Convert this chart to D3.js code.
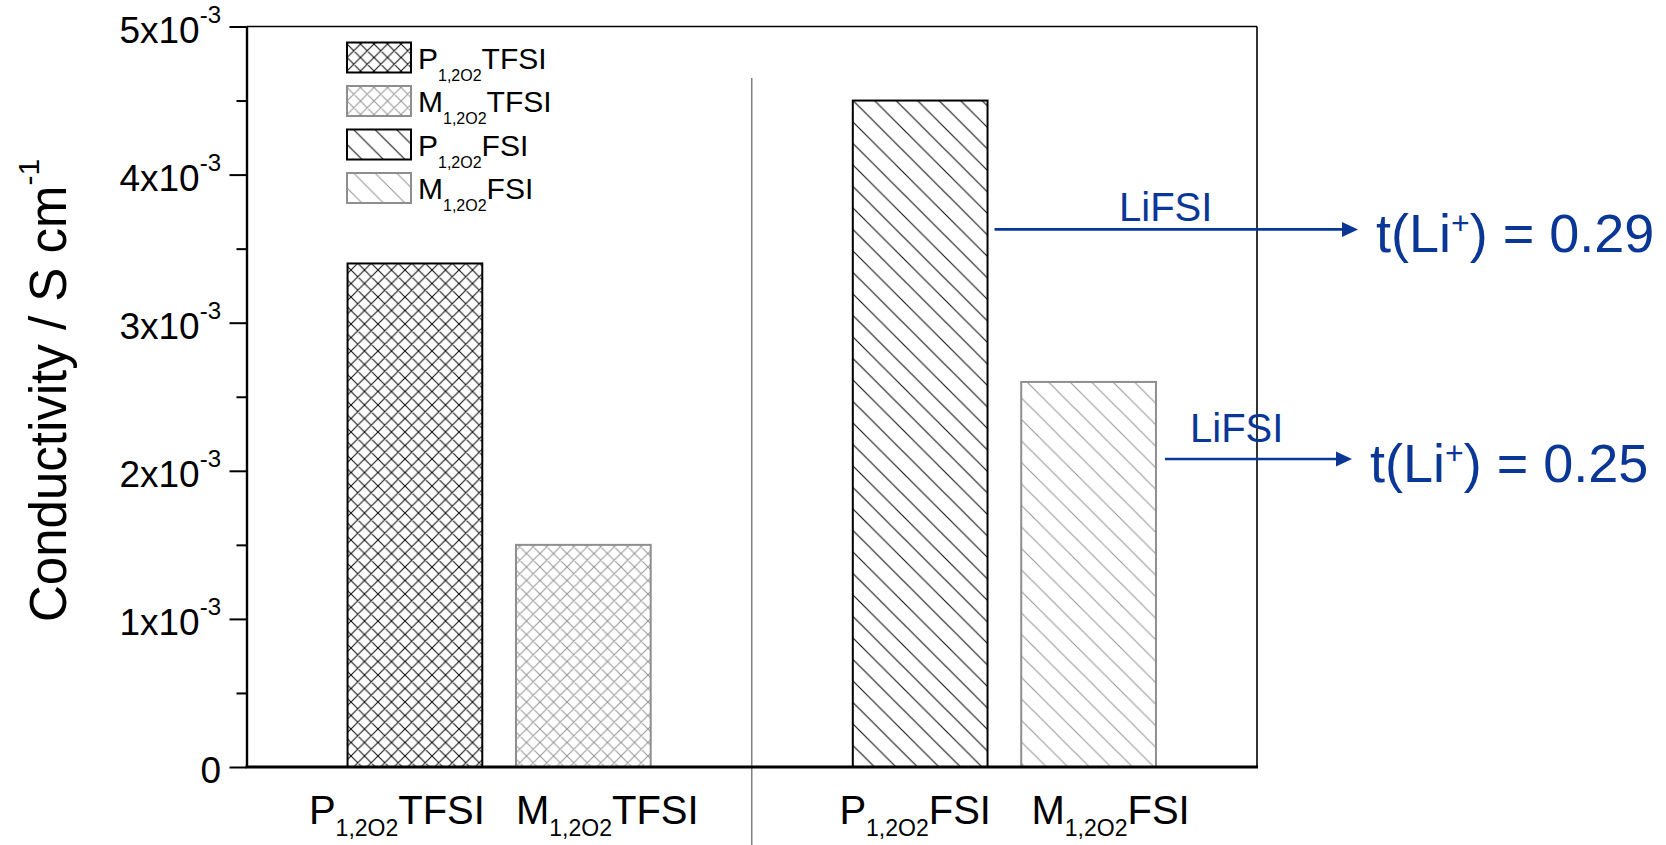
<!DOCTYPE html>
<html><head><meta charset="utf-8">
<script src="https://cdn.jsdelivr.net/npm/d3@7"></script>
<style>body{margin:0;background:#fff} svg{display:block} text{font-family:"Liberation Sans",Arial,sans-serif}</style>
</head><body><svg id="c" width="1666" height="845"></svg>
<script>
// ---------- data ----------
const categories = ["P1,2O2TFSI", "M1,2O2TFSI", "P1,2O2FSI", "M1,2O2FSI"];
const catPrefix = ["P", "M", "P", "M"];
const catSub = ["1,2O2", "1,2O2", "1,2O2", "1,2O2"];
const catSuffix = ["TFSI", "TFSI", "FSI", "FSI"];
const catKind = ["cross", "cross", "diag", "diag"];
const catTone = ["dark", "light", "dark", "light"];
const conductivity = [3.4e-3, 1.5e-3, 4.5e-3, 2.6e-3];

const yTicks = [0, 1e-3, 2e-3, 3e-3, 4e-3, 5e-3];
const yTickMant = ["0", "1x10", "2x10", "3x10", "4x10", "5x10"];
const yTickExp = ["", "-3", "-3", "-3", "-3", "-3"];
const yMinorTicks = [0.5e-3, 1.5e-3, 2.5e-3, 3.5e-3, 4.5e-3];

const annotCategory = ["P1,2O2FSI", "M1,2O2FSI"];
const annotSalt = ["LiFSI", "LiFSI"];
const annotLevel = [3.63e-3, 2.08e-3];
const annotT = ["0.29", "0.25"];

// ---------- layout ----------
const W = 1666, H = 845;
const L = 246.5, R = 1257, T = 26.5, B = 767;
const blue = "#0a3796";
const dark = "#000", light = "#8e8e8e";
const labelShift = [-18, 24, -5, 22];

const svg = d3.select("#c");
const defs = svg.append("defs");

function makePattern(id, kind, color) {
  const p = kind === "cross" ? 13.5 : 21.5;
  const pat = defs.append("pattern").attr("id", id)
    .attr("patternUnits", "userSpaceOnUse").attr("width", p).attr("height", p);
  const back = `M-1,-1L${p+1},${p+1}M${p-1},-1L${p+1},1M-1,${p-1}L1,${p+1}`;
  const fwd = `M-1,${p+1}L${p+1},-1M-1,1L1,-1M${p-1},${p+1}L${p+1},${p-1}`;
  pat.append("path").attr("d", kind === "cross" ? back + fwd : back)
    .attr("stroke", color).attr("stroke-width", 1.1).attr("fill", "none");
}
makePattern("cross-dark", "cross", "#111");
makePattern("cross-light", "cross", "#999");
makePattern("diag-dark", "diag", "#111");
makePattern("diag-light", "diag", "#999");

const slotDomain = [categories[0], categories[1], "__gap__", categories[2], categories[3]];
const x = d3.scaleBand().domain(slotDomain).range([L, R]).paddingInner(0.2).paddingOuter(0.6);
const y = d3.scaleLinear().domain([0, 5e-3]).range([B, T]);

const data = categories.map((c, i) => ({
  c, v: conductivity[i], kind: catKind[i], tone: catTone[i],
  pre: catPrefix[i], sub: catSub[i], suf: catSuffix[i], shift: labelShift[i]
}));

// bars
svg.append("g").selectAll("rect").data(data).join("rect")
  .attr("x", d => x(d.c)).attr("width", x.bandwidth())
  .attr("y", d => y(d.v)).attr("height", d => y(0) - y(d.v))
  .attr("fill", d => `url(#${d.kind}-${d.tone})`)
  .attr("stroke", d => d.tone === "dark" ? dark : light)
  .attr("stroke-width", 2);

// divider
const gapX = x("__gap__") + x.bandwidth() / 2;
svg.append("line").attr("x1", gapX).attr("x2", gapX).attr("y1", 78).attr("y2", H)
  .attr("stroke", "#808080").attr("stroke-width", 1.5);

// frame
svg.append("line").attr("x1", L).attr("x2", R).attr("y1", T).attr("y2", T).attr("stroke", "#000").attr("stroke-width", 1.6);
svg.append("line").attr("x1", R).attr("x2", R).attr("y1", T).attr("y2", B).attr("stroke", "#000").attr("stroke-width", 1.6);

// y axis
const yAxis = d3.axisLeft(y).tickValues(yTicks).tickSize(17).tickSizeOuter(0).tickFormat("");
const gy = svg.append("g").attr("transform", `translate(${L},0)`).call(yAxis);
gy.select(".domain").attr("stroke-width", 2.4);
gy.selectAll(".tick line").attr("stroke-width", 2);
const yMinor = d3.axisLeft(y).tickValues(yMinorTicks).tickSize(10).tickFormat("");
const gym = svg.append("g").attr("transform", `translate(${L},0)`).call(yMinor);
gym.select(".domain").remove();
gym.selectAll(".tick line").attr("stroke-width", 2);

const tl = svg.append("g").selectAll("text").data(yTicks).join("text")
  .attr("x", 221).attr("y", d => y(d) + 16)
  .attr("text-anchor", "end").attr("font-size", 37).attr("fill", "#000");
tl.append("tspan").text((d, i) => yTickMant[i]);
tl.append("tspan").attr("dy", -20).attr("font-size", 24).text((d, i) => yTickExp[i]);

// x axis baseline
svg.append("line").attr("x1", L - 1).attr("x2", R + 1).attr("y1", B).attr("y2", B)
  .attr("stroke", "#000").attr("stroke-width", 3.2);

// x labels
const xl = svg.append("g").selectAll("text").data(data).join("text")
  .attr("x", d => x(d.c) + x.bandwidth() / 2 + d.shift).attr("y", 824)
  .attr("text-anchor", "middle").attr("font-size", 40).attr("fill", "#000");
xl.append("tspan").text(d => d.pre);
xl.append("tspan").attr("dy", 12).attr("font-size", 23).text(d => d.sub);
xl.append("tspan").attr("dy", -12).text(d => d.suf);

// y label
const yl = svg.append("text").attr("transform", "translate(66,622) rotate(-90)")
  .attr("font-size", 51).attr("fill", "#000");
yl.append("tspan").text("Conductivity / S cm");
yl.append("tspan").attr("dy", -27).attr("font-size", 30).text("-1");

// legend
const lg = svg.append("g").selectAll("g").data(data).join("g")
  .attr("transform", (d, i) => `translate(347,${57.5 + i * 43.5})`);
lg.append("rect").attr("x", 0).attr("y", -15).attr("width", 64).attr("height", 30)
  .attr("fill", d => `url(#${d.kind}-${d.tone})`)
  .attr("stroke", d => d.tone === "dark" ? dark : light).attr("stroke-width", 2);
const lt = lg.append("text").attr("x", 71).attr("y", 11).attr("font-size", 30).attr("fill", "#000");
lt.append("tspan").text(d => d.pre);
lt.append("tspan").attr("dy", 12).attr("font-size", 16).text(d => d.sub);
lt.append("tspan").attr("dy", -12).text(d => d.suf);

// annotations
const annLayout = [
  { gap: 7, tip: 1358, saltX: 1119, saltDy: -8 },
  { gap: 9, tip: 1352, saltX: 1190, saltDy: -17 }
];
annotCategory.forEach((c, i) => {
  const lay = annLayout[i];
  const ay = y(annotLevel[i]);
  const x1 = x(c) + x.bandwidth() + lay.gap;
  svg.append("line").attr("x1", x1).attr("x2", lay.tip - 14).attr("y1", ay).attr("y2", ay)
    .attr("stroke", blue).attr("stroke-width", 2.6);
  svg.append("path").attr("d", `M${lay.tip},${ay}L${lay.tip - 16},${ay - 7.5}L${lay.tip - 16},${ay + 7.5}Z`)
    .attr("fill", blue);
  svg.append("text").attr("x", lay.saltX).attr("y", ay + lay.saltDy)
    .attr("font-size", 40).attr("fill", blue).text(annotSalt[i]);
  const t = svg.append("text").attr("x", lay.tip + 18).attr("y", ay + 23)
    .attr("font-size", 54).attr("fill", blue);
  t.append("tspan").text("t(Li");
  t.append("tspan").attr("dy", -18).attr("font-size", 32).text("+");
  t.append("tspan").attr("dy", 18).text(") = " + annotT[i]);
});
</script>
</body></html>
